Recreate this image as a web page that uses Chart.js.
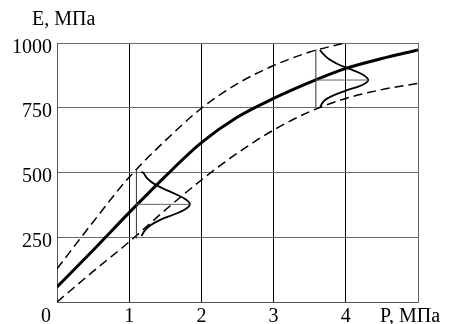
<!DOCTYPE html>
<html>
<head>
<meta charset="utf-8">
<script src="https://cdn.jsdelivr.net/npm/chart.js@4/dist/chart.umd.min.js"></script>
<style>
  html, body { margin: 0; padding: 0; background: #fff; }
  canvas { display: block; }
</style>
</head>
<body>
<canvas id="chart" width="449" height="324"></canvas>
<script>
// Tick labels
const pressureTicks = [1, 2, 3, 4];
const modulusTicks = [250, 500, 750, 1000];

// Mean curve E(P) and its confidence band
const pressure = [0, 0.5, 1, 1.5, 2, 2.5, 3, 3.5, 4, 4.5, 5];
const modulusMean = [58, 200, 345, 485, 615, 714, 786, 848, 902, 940, 973];
const modulusLower = [0, 118, 232, 355, 471, 575, 664, 735, 786, 820, 844];
const upperPressure = [0, 0.5, 1, 1.5, 2, 2.5, 3, 3.5, 3.98];
const modulusUpper = [128, 309, 482, 623, 748, 843, 913, 965, 1000];

// Scatter distribution near P = 1 MPa
const spread1Modulus  = [503, 497, 477, 457, 437, 417, 397, 377, 357, 337, 317, 297, 277, 255];
const spread1Pressure = [1.17, 1.20, 1.25, 1.34, 1.48, 1.64, 1.78, 1.84, 1.77, 1.61, 1.43, 1.30, 1.22, 1.17];
const spread1Axis = [1.10];          // position of the distribution axis, MPa
const spread1Range = [245, 512];     // E range covered by the axis
const spread1Mean = [377];           // mean E

// Scatter distribution near P = 4 MPa
const spread2Modulus  = [973, 957, 937, 917, 897, 877, 857, 837, 817, 797, 777, 754];
const spread2Pressure = [3.64, 3.69, 3.77, 3.90, 4.08, 4.24, 4.31, 4.22, 4.01, 3.82, 3.70, 3.645];
const spread2Axis = [3.585];
const spread2Range = [752, 976];
const spread2Mean = [857];

const FONT = '"Liberation Serif", "Times New Roman", serif';

const pts = (xs, ys) => xs.map((x, i) => ({ x, y: ys[i] }));

const solid = (data, width, color) => ({
  data, showLine: true, borderColor: color, borderWidth: width,
  pointRadius: 0, fill: false
});

const datasets = [
  // distribution axes and mean lines
  solid(pts([spread1Axis[0], spread1Axis[0]], spread1Range), 1, '#333'),
  solid(pts([spread1Axis[0], spread1Pressure[7]], [spread1Mean[0], spread1Mean[0]]), 1, '#666'),
  solid(pts([spread2Axis[0], spread2Axis[0]], spread2Range), 1, '#333'),
  solid(pts([spread2Axis[0], spread2Pressure[6]], [spread2Mean[0], spread2Mean[0]]), 1, '#666'),
  // distribution curves
  Object.assign(solid(pts(spread1Pressure, spread1Modulus), 1.8, '#000'), { tension: 0.4 }),
  Object.assign(solid(pts(spread2Pressure, spread2Modulus), 1.8, '#000'), { tension: 0.4 }),
  // band limits
  Object.assign(solid(pts(upperPressure, modulusUpper), 1.5, '#000'),
    { borderDash: [9, 5], cubicInterpolationMode: 'monotone' }),
  Object.assign(solid(pts(pressure, modulusLower), 1.5, '#000'),
    { borderDash: [9, 5], cubicInterpolationMode: 'monotone' }),
  // mean curve
  Object.assign(solid(pts(pressure, modulusMean), 3, '#000'),
    { cubicInterpolationMode: 'monotone' })
];

// Tick labels and axis captions drawn through the chart scales
const labelsPlugin = {
  id: 'axisText',
  afterDraw(chart) {
    const { ctx, scales: { x, y } } = chart;
    ctx.save();
    ctx.fillStyle = '#000';
    ctx.font = '20px ' + FONT;
    ctx.textBaseline = 'alphabetic';

    ctx.textAlign = 'right';
    modulusTicks.forEach(v => {
      ctx.fillText(String(v), x.left - 5, y.getPixelForValue(v) + 9.5);
    });

    const base = y.bottom + 20;
    ctx.textAlign = 'center';
    pressureTicks.forEach(v => {
      ctx.fillText(String(v), x.getPixelForValue(v), base);
    });
    ctx.fillText('0', x.getPixelForValue(0) - 11, base);

    ctx.textAlign = 'left';
    ctx.fillText('P, МПа', 380, base);
    ctx.fillText('E, МПа', 32, 25);
    ctx.restore();
  }
};

new Chart(document.getElementById('chart'), {
  type: 'scatter',
  data: { datasets },
  options: {
    responsive: false,
    animation: false,
    events: [],
    layout: { padding: { left: 0, top: 43, right: 31, bottom: 0 } },
    plugins: { legend: { display: false }, tooltip: { enabled: false } },
    scales: {
      x: {
        type: 'linear', min: 0, max: 5,
        ticks: { display: false, stepSize: 1 },
        grid: {
          drawTicks: false,
          lineWidth: 1,
          color: ctx => (ctx.tick && ctx.tick.value > 0 && ctx.tick.value < 5) ? '#000' : '#666'
        },
        border: { color: '#555', width: 1 },
        afterFit: s => { s.height = 22; }
      },
      y: {
        type: 'linear', min: 0, max: 1000,
        ticks: { display: false, stepSize: 250 },
        grid: { drawTicks: false, lineWidth: 1, color: '#6a6a6a' },
        border: { color: '#555', width: 1 },
        afterFit: s => { s.width = 57; }
      }
    }
  },
  plugins: [labelsPlugin]
});
</script>
</body>
</html>
